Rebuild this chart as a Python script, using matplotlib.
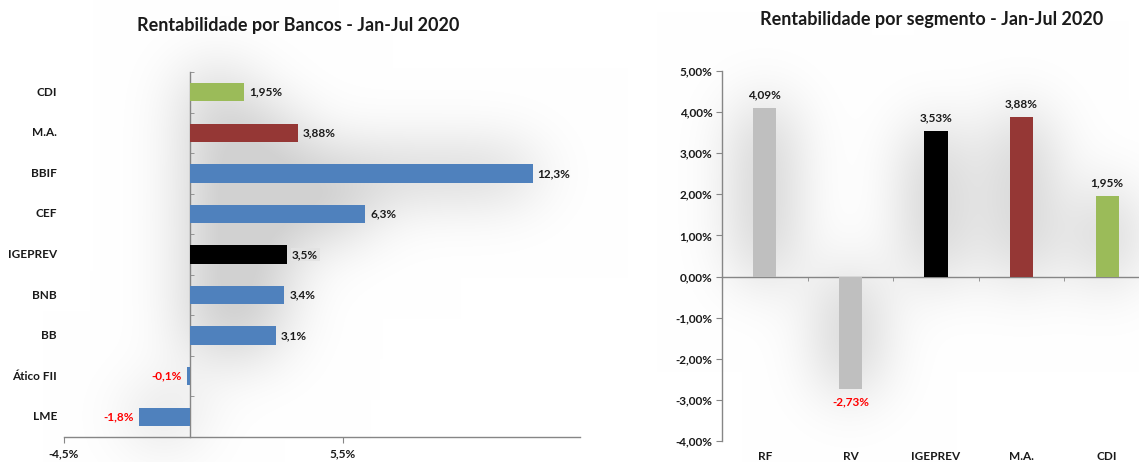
import numpy as np
import matplotlib
matplotlib.use("Agg")
import matplotlib.pyplot as plt
import matplotlib.transforms as mtransforms

plt.rcParams['font.family'] = ['Lato', 'DejaVu Sans']

# ---- data: left chart (banks) ----
bank_names = ["CDI", "M.A.", "BBIF", "CEF", "IGEPREV", "BNB", "BB", "Ático FII", "LME"]
bank_values = [1.95, 3.88, 12.3, 6.3, 3.5, 3.4, 3.1, -0.1, -1.8]
bank_decimals = [2, 2, 1, 1, 1, 1, 1, 1, 1]
bank_colors = ["#9BBB59", "#953735", "#4F81BD", "#4F81BD", "#000000",
               "#4F81BD", "#4F81BD", "#4F81BD", "#4F81BD"]
bank_xticks = [-4.5, 5.5]

# ---- data: right chart (segments) ----
seg_names = ["RF", "RV", "IGEPREV", "M.A.", "CDI"]
seg_values = [4.09, -2.73, 3.53, 3.88, 1.95]
seg_colors = ["#BFBFBF", "#BFBFBF", "#000000", "#953735", "#9BBB59"]
seg_yticks = [-4, -3, -2, -1, 0, 1, 2, 3, 4, 5]

W, H = 1139, 462
fig = plt.figure(figsize=(W / 100, H / 100), dpi=100)
fig.patch.set_facecolor("white")

def fmt(v, d):
    return f"{v:.{d}f}".replace(".", ",") + "%"

spine_c = "#868686"
txt_c = "#1a1a1a"

# ---------------- left chart ----------------
axL = fig.add_axes([64 / W, 1 - 437 / H, (580 - 64) / W, (437 - 72) / H])
axL.patch.set_alpha(0)
n = len(bank_names)
ypos = np.arange(n)
barsL = axL.barh(ypos, bank_values, height=0.45, color=bank_colors, zorder=3)
axL.set_xlim(-4.5, 14.0)
axL.set_ylim(n - 0.5, -0.5)
for s in ["top", "right"]:
    axL.spines[s].set_visible(False)
axL.spines["left"].set_position(("data", 0))
for s in ["left", "bottom"]:
    axL.spines[s].set_color(spine_c)
    axL.spines[s].set_linewidth(1)
axL.set_yticks([])
axL.set_yticks(np.arange(-0.5, n, 1.0), minor=True)
axL.tick_params(axis="y", which="minor", direction="in", length=3, color=spine_c)
axL.set_xticks(bank_xticks)
axL.set_xticklabels([fmt(v, 1) for v in bank_xticks])
axL.tick_params(axis="x", length=4, color=spine_c, pad=4, labelsize=8.5, labelcolor=txt_c)
for lab in axL.get_xticklabels():
    lab.set_fontweight("bold")

ytr = axL.get_yaxis_transform()
lab_off = mtransforms.offset_copy(ytr, fig=fig, x=-7, y=0, units="dots")
for i, name in enumerate(bank_names):
    axL.text(0, i, name, transform=lab_off, ha="right", va="center",
             fontsize=8.5, fontweight="bold", color=txt_c)

for i, (v, d) in enumerate(zip(bank_values, bank_decimals)):
    if v >= 0:
        tr = mtransforms.offset_copy(axL.transData, fig=fig, x=5, y=0, units="dots")
        kw = dict(ha="left", color=txt_c)
    else:
        tr = mtransforms.offset_copy(axL.transData, fig=fig, x=-5, y=0, units="dots")
        kw = dict(ha="right", color="#FF0000")
    t = axL.text(v, i, fmt(v, d), transform=tr, va="center", fontsize=8.5,
                 fontweight="bold", zorder=4, **kw)
    if bank_names[i] == "IGEPREV":
        t.set_bbox(dict(facecolor="#e3e3e3", edgecolor="none", pad=1.0))

fig.text(298 / W, 1 - 25 / H, "Rentabilidade por Bancos - Jan-Jul 2020",
         ha="center", va="center", fontsize=13, fontweight="bold", color=txt_c)

# ---------------- right chart ----------------
axR = fig.add_axes([722 / W, 1 - 441 / H, (1150 - 722) / W, (441 - 71) / H])
axR.patch.set_alpha(0)
m = len(seg_names)
xpos = np.arange(m)
barsR = axR.bar(xpos, seg_values, width=0.27, color=seg_colors, zorder=3)
axR.set_xlim(-0.5, m - 0.5)
axR.set_ylim(-4, 5)
for s in ["top", "right"]:
    axR.spines[s].set_visible(False)
axR.spines["bottom"].set_position(("data", 0))
for s in ["left", "bottom"]:
    axR.spines[s].set_color(spine_c)
    axR.spines[s].set_linewidth(1)
axR.set_yticks(seg_yticks)
axR.set_yticklabels([fmt(v, 2) for v in seg_yticks])
axR.tick_params(axis="y", length=4, color=spine_c, pad=3, labelsize=8.5, labelcolor=txt_c)
for lab in axR.get_yticklabels():
    lab.set_fontweight("bold")
axR.set_xticks([])
axR.set_xticks(np.arange(0.5, m, 1.0), minor=True)
axR.tick_params(axis="x", which="minor", direction="out", length=3, color=spine_c)

xtr = axR.get_xaxis_transform()
cat_off = mtransforms.offset_copy(xtr, fig=fig, x=0, y=-16, units="dots")
for i, name in enumerate(seg_names):
    axR.text(i, 0, name, transform=cat_off, ha="center", va="center",
             fontsize=8.5, fontweight="bold", color=txt_c)

for i, v in enumerate(seg_values):
    if v >= 0:
        tr = mtransforms.offset_copy(axR.transData, fig=fig, x=0, y=8, units="dots")
        kw = dict(va="bottom", color=txt_c)
    else:
        tr = mtransforms.offset_copy(axR.transData, fig=fig, x=0, y=-8, units="dots")
        kw = dict(va="top", color="#FF0000")
    axR.text(i, v, fmt(v, 2), transform=tr, ha="center", fontsize=8.5,
             fontweight="bold", zorder=4, **kw)

fig.text(932 / W, 1 - 20 / H, "Rentabilidade por segmento - Jan-Jul 2020",
         ha="center", va="center", fontsize=13, fontweight="bold", color=txt_c)

# ---------------- soft shadows behind bars (Excel-like glow) ----------------
fig.canvas.draw()
mask = np.zeros((H, W))
for bars in (barsL, barsR):
    for b in bars:
        bb = b.get_window_extent()
        x0, x1 = int(max(bb.x0, 0)), int(min(bb.x1, W))
        y0, y1 = int(max(H - bb.y1, 0)), int(min(H - bb.y0, H))
        mask[y0:y1, x0:x1] = 1.0

def blur(img, sigma):
    r = int(3 * sigma)
    k = np.exp(-0.5 * (np.arange(-r, r + 1) / sigma) ** 2)
    k /= k.sum()
    pad = np.pad(img, r, mode="constant")
    tmp = np.apply_along_axis(lambda row: np.convolve(row, k, mode="same"), 1, pad)
    out = np.apply_along_axis(lambda col: np.convolve(col, k, mode="same"), 0, tmp)
    return out[r:-r, r:-r]

shadow = blur(mask, 32)
shadow = shadow / shadow.max()
gray = 1.0 - 0.18 * np.clip(shadow * 1.15, 0, 1)
bg = fig.add_axes([0, 0, 1, 1], zorder=-1)
bg.imshow(np.dstack([gray, gray, gray]), extent=(0, 1, 0, 1), aspect="auto",
          interpolation="bilinear")
bg.set_axis_off()

fig.savefig("out.png", dpi=100, facecolor="white")
